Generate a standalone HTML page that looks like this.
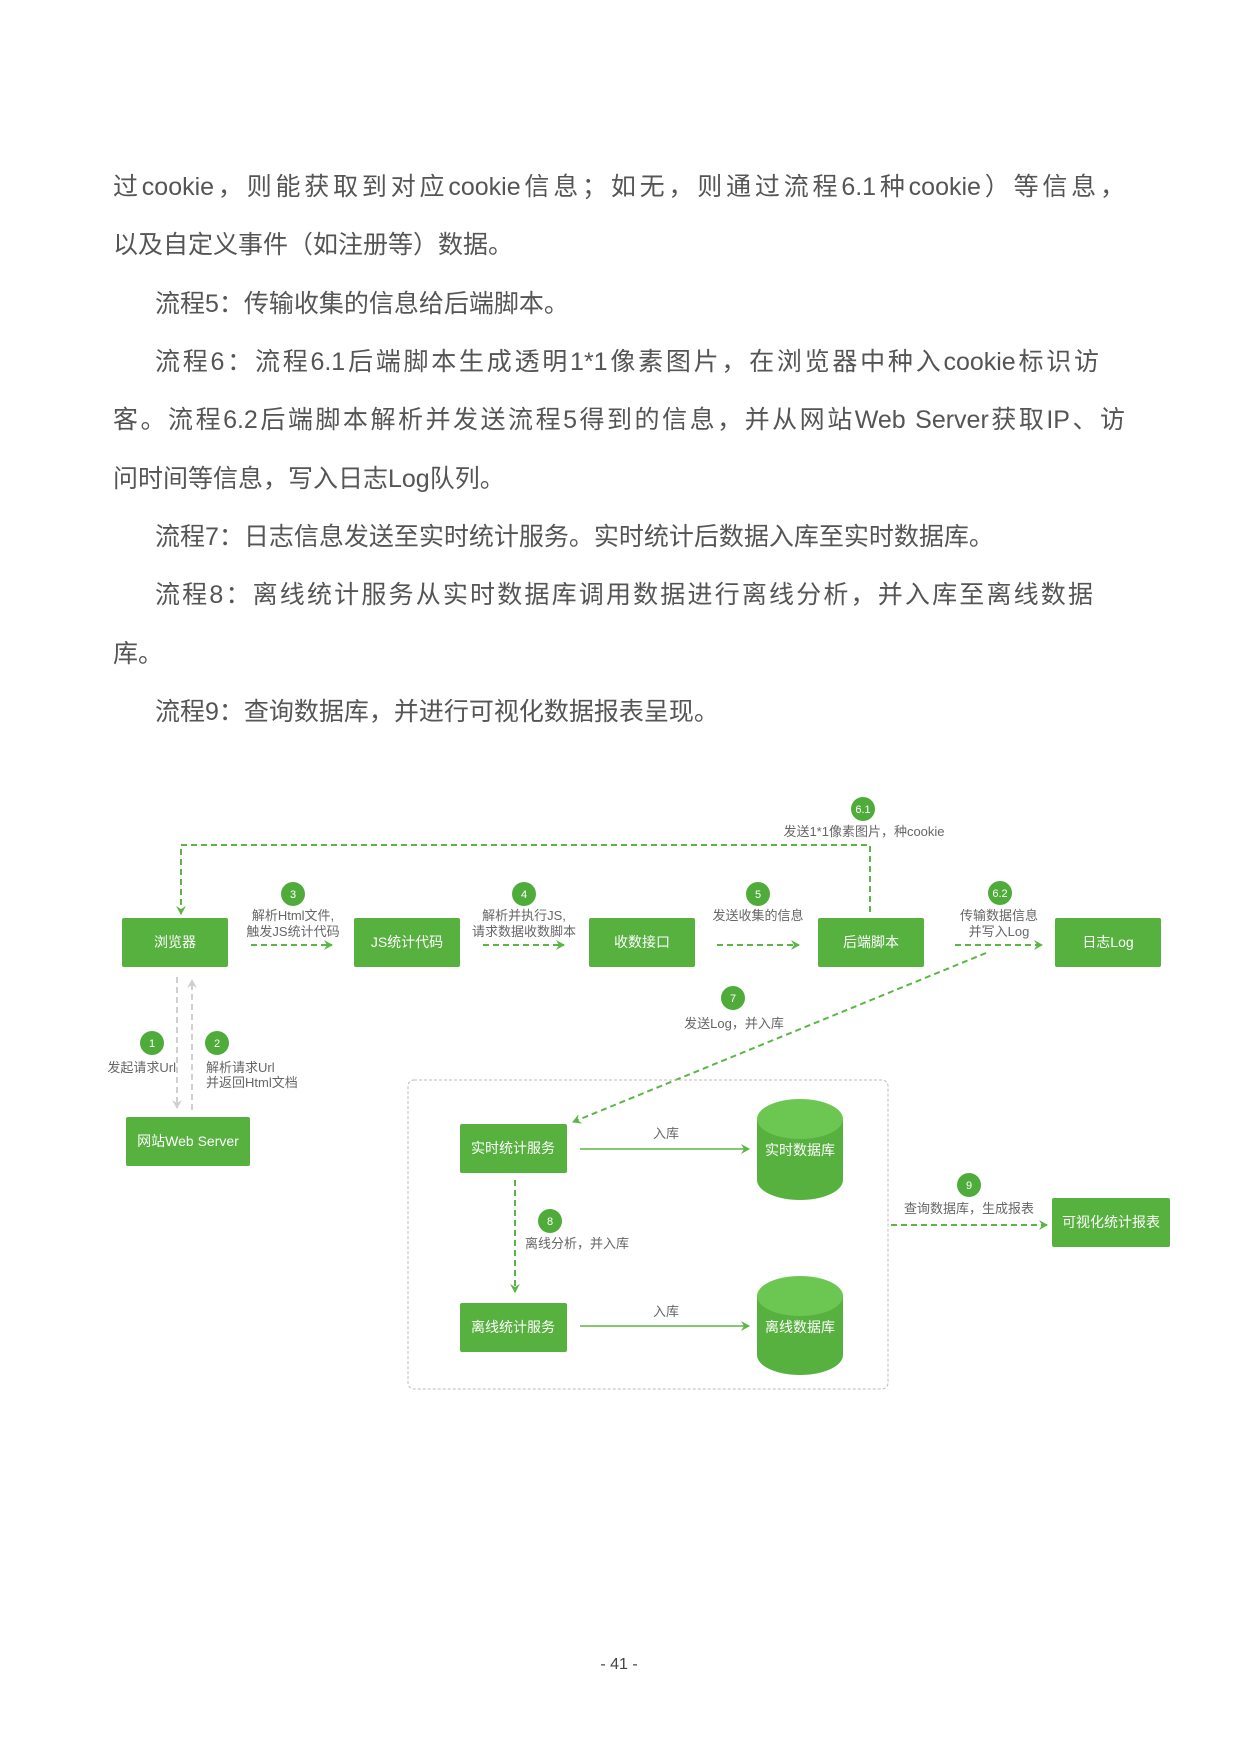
<!DOCTYPE html>
<html><head><meta charset="utf-8">
<style>
html,body{margin:0;padding:0;background:#fff;}
body{width:1240px;height:1754px;position:relative;overflow:hidden;font-family:"Liberation Sans","Noto Sans CJK SC",sans-serif;}
.l{position:absolute;height:40px;line-height:40px;font-size:25px;color:#555;white-space:nowrap;}
.j{text-align:justify;text-align-last:justify;white-space:normal;overflow:hidden;}
svg{position:absolute;left:0;top:0;}
</style></head><body>
<div class="l j" style="left:113px;top:167px;width:1012px">过cookie，则能获取到对应cookie信息；如无，则通过流程6.1种cookie）等信息，</div>
<div class="l" style="left:113px;top:225px">以及自定义事件（如注册等）数据。</div>
<div class="l" style="left:155px;top:284px">流程5：传输收集的信息给后端脚本。</div>
<div class="l j" style="left:155px;top:342px;width:944px">流程6：流程6.1后端脚本生成透明1*1像素图片，在浏览器中种入cookie标识访</div>
<div class="l j" style="left:113px;top:400px;width:1012px">客。流程6.2后端脚本解析并发送流程5得到的信息，并从网站Web Server获取IP、访</div>
<div class="l" style="left:113px;top:459px">问时间等信息，写入日志Log队列。</div>
<div class="l" style="left:155px;top:517px">流程7：日志信息发送至实时统计服务。实时统计后数据入库至实时数据库。</div>
<div class="l j" style="left:155px;top:575px;width:938px">流程8：离线统计服务从实时数据库调用数据进行离线分析，并入库至离线数据</div>
<div class="l" style="left:113px;top:634px">库。</div>
<div class="l" style="left:155px;top:692px">流程9：查询数据库，并进行可视化数据报表呈现。</div>

<svg width="1240" height="1754" viewBox="0 0 1240 1754" font-family="Liberation Sans, Noto Sans CJK SC, sans-serif">
<defs>
<marker id="g" markerWidth="10" markerHeight="10" refX="8" refY="5" orient="auto" markerUnits="userSpaceOnUse"><path d="M0,0 L9,5 L0,10 L3,5 Z" fill="#5cb646"/></marker>
<marker id="gr" markerWidth="10" markerHeight="10" refX="8" refY="5" orient="auto" markerUnits="userSpaceOnUse"><path d="M0,0 L9,5 L0,10 L3,5 Z" fill="#cfcfcf"/></marker>
</defs>
<g fill="none" stroke="#5cb646" stroke-width="2" stroke-dasharray="6 4">
<path d="M870,912 L870,845 L181,845 L181,914" marker-end="url(#g)"/>
<line x1="251" y1="945" x2="332" y2="945" marker-end="url(#g)"/>
<line x1="483" y1="945" x2="564" y2="945" marker-end="url(#g)"/>
<line x1="717" y1="945" x2="799" y2="945" marker-end="url(#g)"/>
<line x1="955" y1="945" x2="1042" y2="945" marker-end="url(#g)"/>
<line x1="986" y1="953" x2="573" y2="1122" marker-end="url(#g)"/>
<line x1="515" y1="1180" x2="515" y2="1292" marker-end="url(#g)"/>
<line x1="891" y1="1225" x2="1047" y2="1225" marker-end="url(#g)"/>
</g>
<g fill="none" stroke="#d0d0d0" stroke-width="2" stroke-dasharray="6 4">
<line x1="177" y1="977" x2="177" y2="1108" marker-end="url(#gr)"/>
<line x1="192" y1="1110" x2="192" y2="980" marker-end="url(#gr)"/>
</g>
<rect x="408" y="1080" width="480" height="309" rx="6" fill="none" stroke="#bdbdbd" stroke-width="1" stroke-dasharray="3 2"/>
<g stroke="#5cb646" stroke-width="1.5" fill="none">
<line x1="580" y1="1149" x2="749" y2="1149" marker-end="url(#g)"/>
<line x1="580" y1="1326" x2="749" y2="1326" marker-end="url(#g)"/>
</g>
<g fill="#56b13f">
<rect x="122" y="918" width="106" height="49" rx="2"/>
<rect x="354" y="918" width="106" height="49" rx="2"/>
<rect x="589" y="918" width="106" height="49" rx="2"/>
<rect x="818" y="918" width="106" height="49" rx="2"/>
<rect x="1055" y="918" width="106" height="49" rx="2"/>
<rect x="126" y="1117" width="124" height="49" rx="2"/>
<rect x="460" y="1124" width="107" height="49" rx="2"/>
<rect x="460" y="1303" width="107" height="49" rx="2"/>
<rect x="1052" y="1198" width="118" height="49" rx="2"/>
<rect x="757" y="1119" width="86" height="61"/>
<ellipse cx="800" cy="1180" rx="43" ry="20"/>
<rect x="757" y="1296" width="86" height="59"/>
<ellipse cx="800" cy="1355" rx="43" ry="20"/>
</g>
<g fill="#6cc652">
<ellipse cx="800" cy="1119" rx="43" ry="20"/>
<ellipse cx="800" cy="1296" rx="43" ry="20"/>
</g>
<g fill="#fff" font-size="14" text-anchor="middle">
<text x="175" y="947">浏览器</text>
<text x="407" y="947">JS统计代码</text>
<text x="642" y="947">收数接口</text>
<text x="871" y="947">后端脚本</text>
<text x="1108" y="947">日志Log</text>
<text x="188" y="1146">网站Web Server</text>
<text x="513" y="1153">实时统计服务</text>
<text x="513" y="1332">离线统计服务</text>
<text x="1111" y="1227">可视化统计报表</text>
<text x="800" y="1155">实时数据库</text>
<text x="800" y="1332">离线数据库</text>
</g>
<g fill="#4fab3a">
<circle cx="863" cy="809" r="12"/>
<circle cx="293" cy="894" r="12"/>
<circle cx="524" cy="894" r="12"/>
<circle cx="758" cy="894" r="12"/>
<circle cx="1000" cy="893" r="12"/>
<circle cx="733" cy="998" r="12"/>
<circle cx="152" cy="1043" r="12"/>
<circle cx="217" cy="1043" r="12"/>
<circle cx="550" cy="1221" r="12"/>
<circle cx="969" cy="1185" r="12"/>
</g>
<g fill="#fff" font-size="11" text-anchor="middle">
<text x="863" y="813">6.1</text>
<text x="293" y="898">3</text>
<text x="524" y="898">4</text>
<text x="758" y="898">5</text>
<text x="1000" y="897">6.2</text>
<text x="733" y="1002">7</text>
<text x="152" y="1047">1</text>
<text x="217" y="1047">2</text>
<text x="550" y="1225">8</text>
<text x="969" y="1189">9</text>
</g>
<g fill="#666" font-size="13" text-anchor="middle">
<text x="864" y="836">发送1*1像素图片，种cookie</text>
<text x="293" y="920">解析Html文件,</text>
<text x="293" y="936">触发JS统计代码</text>
<text x="524" y="920">解析并执行JS,</text>
<text x="524" y="936">请求数据收数脚本</text>
<text x="758" y="920">发送收集的信息</text>
<text x="999" y="920">传输数据信息</text>
<text x="999" y="936">并写入Log</text>
<text x="734" y="1028">发送Log，并入库</text>
<text x="666" y="1138">入库</text>
<text x="666" y="1316">入库</text>
<text x="969" y="1213">查询数据库，生成报表</text>
<text x="176" y="1072" text-anchor="end">发起请求Url</text>
<text x="206" y="1072" text-anchor="start">解析请求Url</text>
<text x="206" y="1087" text-anchor="start">并返回Html文档</text>
<text x="525" y="1248" text-anchor="start">离线分析，并入库</text>
</g>
<text x="619" y="1669" fill="#444" font-size="16" text-anchor="middle">- 41 -</text>
</svg>
</body></html>
